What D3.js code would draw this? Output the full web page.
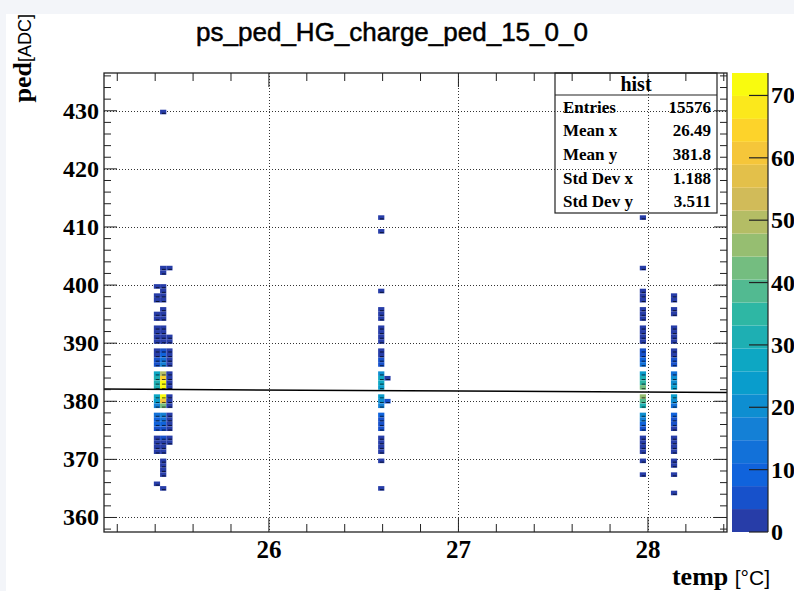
<!DOCTYPE html>
<html>
<head>
<meta charset="utf-8">
<title>ps_ped_HG_charge_ped_15_0_0</title>
<script src="https://d3js.org/d3.v7.min.js"></script>
<style>
  body { margin: 0; background: #fff; }
  svg { display: block; }
  .serif { font-family: "Liberation Serif", "Times New Roman", serif; font-weight: bold; }
  .sans { font-family: "Liberation Sans", Arial, sans-serif; }
</style>
</head>
<body>
<svg id="chart" width="794" height="591"></svg>
<script>
// temperature of each filled column (x bin centres)
const temps = [25.41, 25.44, 25.48, 26.59, 26.63, 27.96, 28.13];

// [ped, entries] for every column, same order as temps
const col25a = [[400,1],[398,1],[397,1],[395,1],[394,1],[393,1],[392,1],[391,2],[390,2],[389,2],[388,3],[387,4],[386,5],
  [385,26],[384,30],[383,32],[382,30],[381,28],[380,24],[379,18],[378,12],[377,10],[376,8],[375,5],[374,2],[373,2],[372,1],[371,1],[366,1]];
const col25b = [[430,1],[403,1],[402,1],[400,1],[399,2],[398,2],[397,2],[396,1],[395,2],[394,2],[393,2],[392,3],[391,3],[390,3],
  [389,5],[388,8],[387,12],[386,16],[385,48],[384,66],[383,73],[382,70],[381,72],[380,60],[379,42],[378,16],[377,12],[376,10],[375,7],
  [374,4],[373,3],[372,3],[371,2],[370,2],[369,1],[368,1],[367,1],[365,1]];
const col25c = [[403,1],[391,1],[390,1],[389,1],[388,2],[387,2],[386,2],[385,3],[384,3],[383,3],[382,3],[381,3],[380,3],[379,2],
  [378,2],[377,2],[376,1],[375,1],[374,1],[373,1]];
const col26a = [[412,1],[409,1],[399,1],[396,1],[395,1],[394,1],[393,1],[392,1],[391,2],[390,1],[389,2],[388,3],[387,4],[386,6],
  [385,22],[384,26],[383,26],[382,24],[381,24],[380,22],[379,16],[378,10],[377,7],[376,6],[375,4],[374,2],[373,2],[372,2],[371,1],[370,1],[365,1]];
const col26b = [[384,3],[380,4]];
const col28a = [[412,1],[403,1],[399,1],[398,2],[397,1],[396,2],[395,2],[394,2],[393,2],[392,2],[391,3],[390,3],[389,4],[388,6],[387,9],
  [386,12],[385,24],[384,30],[383,36],[382,44],[381,46],[380,38],[379,30],[378,22],[377,16],[376,8],[375,5],[374,3],[373,2],[372,2],[371,1],[370,1],[367,1]];
const col28b = [[398,1],[397,1],[396,1],[395,1],[393,1],[392,2],[391,1],[390,2],[389,2],[388,3],[387,4],[386,5],[385,14],[384,20],
  [383,22],[382,24],[381,24],[380,20],[379,14],[378,8],[377,6],[376,5],[375,3],[374,2],[373,2],[372,1],[371,2],[370,1],[369,1],[367,1],[364,1]];
const columns = [col25a, col25b, col25c, col26a, col26b, col28a, col28b];

const xTicks = [26, 27, 28];
const yTicks = [360, 370, 380, 390, 400, 410, 420, 430];
const zTicks = [0, 10, 20, 30, 40, 50, 60, 70];
const statNames = ["Entries", "Mean x", "Mean y", "Std Dev x", "Std Dev y"];
const statValues = ["15576", "26.49", "381.8", "1.188", "3.511"];
// pol1 fit drawn over the histogram
const fitP0 = 386.69, fitP1 = -0.1825;

// histogram binning (100 x 100)
const xMin = 25.13, xMax = 28.417, nx = 100;
const yMin = 357.5, yMax = 436.5, ny = 100;
const zMax = 73.6, nCont = 20;
const dx = (xMax - xMin) / nx, dy = (yMax - yMin) / ny;

const svg = d3.select("#chart");
const frame = {left: 104, right: 727, top: 73, bottom: 532};

const x = d3.scaleLinear().domain([xMin, xMax]).range([frame.left, frame.right]);
const y = d3.scaleLinear().domain([yMin, yMax]).range([frame.bottom, frame.top]);
const z = d3.scaleLinear().domain([0, zMax]).range([frame.bottom, frame.top]);

// ROOT kBird palette
const stops = [0.0, 0.125, 0.25, 0.375, 0.5, 0.625, 0.75, 0.875, 1.0];
const red   = [0.2082, 0.0592, 0.0780, 0.0232, 0.1802, 0.5301, 0.8186, 0.9956, 0.9764];
const green = [0.1664, 0.3599, 0.5041, 0.6419, 0.7178, 0.7492, 0.7328, 0.7862, 0.9832];
const blue  = [0.5293, 0.8684, 0.8385, 0.7914, 0.6425, 0.4662, 0.3499, 0.1968, 0.0539];
const bird = d3.scaleLinear().domain(stops)
  .range(stops.map((s, i) => d3.rgb(red[i] * 255, green[i] * 255, blue[i] * 255)));
function levelColor(level) {
  const idx = Math.floor(0.01 + (level + 0.99) * 255 / nCont);
  return bird(Math.min(idx, 254) / 254);
}

// page around the canvas (the screenshot starts a little inside it)
svg.append("rect").attr("width", 794).attr("height", 591).attr("fill", "#f3f5f9");
svg.append("rect").attr("x", 6).attr("y", 14).attr("width", 788).attr("height", 577).attr("fill", "#fff");

// grid
const grid = svg.append("g").attr("stroke", "#333").attr("stroke-dasharray", "1,2").attr("stroke-width", 1);
grid.selectAll("line.gx").data(xTicks).join("line").attr("class", "gx")
  .attr("x1", d => Math.round(x(d)) + 0.5).attr("x2", d => Math.round(x(d)) + 0.5)
  .attr("y1", frame.top).attr("y2", frame.bottom);
grid.selectAll("line.gy").data(yTicks).join("line").attr("class", "gy")
  .attr("y1", d => Math.round(y(d)) + 0.5).attr("y2", d => Math.round(y(d)) + 0.5)
  .attr("x1", frame.left).attr("x2", frame.right);

// fill the bins
const cells = new Map();
temps.forEach((t, c) => {
  const bx = Math.floor((t - xMin) / dx);
  columns[c].forEach(([p, n]) => {
    const by = Math.floor((p - yMin) / dy + 1e-9);
    const key = bx + "_" + by;
    cells.set(key, {bx, by, n: (cells.has(key) ? cells.get(key).n : 0) + n});
  });
});
const cellData = Array.from(cells.values());

const cellG = svg.append("g");
cellG.selectAll("rect").data(cellData).join("rect")
  .attr("x", d => x(xMin + d.bx * dx))
  .attr("width", d => x(xMin + (d.bx + 1) * dx) - x(xMin + d.bx * dx))
  .attr("y", d => y(yMin + (d.by + 1) * dy))
  .attr("height", d => y(yMin + d.by * dy) - y(yMin + (d.by + 1) * dy))
  .attr("fill", d => levelColor(Math.min(nCont - 1, Math.floor(d.n / zMax * nCont))));
// dark edge marks seen on the lower side of each bin
cellG.selectAll("line").data(cellData).join("line")
  .attr("x1", d => x(xMin + (d.bx + 0.3) * dx))
  .attr("x2", d => x(xMin + (d.bx + 0.9) * dx))
  .attr("y1", d => y(yMin + d.by * dy) - 1)
  .attr("y2", d => y(yMin + d.by * dy) - 1)
  .attr("stroke", "#000").attr("stroke-opacity", 0.7).attr("stroke-width", 1);

// fit line
svg.append("line")
  .attr("x1", x(xMin)).attr("y1", y(fitP0 + fitP1 * xMin))
  .attr("x2", x(xMax)).attr("y2", y(fitP0 + fitP1 * xMax))
  .attr("stroke", "#000").attr("stroke-width", 1.5);

// axes (ticks drawn inside the frame on all four sides)
const xMinor = d3.range(25.2, 28.41, 0.2);
const yMinor = d3.range(358, 437, 2);
const isMajorX = d => xTicks.some(t => Math.abs(t - d) < 1e-6);
const axes = svg.append("g").attr("stroke", "#222").attr("stroke-width", 1);
axes.selectAll("line.xb").data(xMinor).join("line").attr("class", "xb")
  .attr("x1", d => x(d)).attr("x2", d => x(d))
  .attr("y1", frame.bottom).attr("y2", d => frame.bottom - (isMajorX(d) ? 14 : 8));
axes.selectAll("line.xt").data(xMinor).join("line").attr("class", "xt")
  .attr("x1", d => x(d)).attr("x2", d => x(d))
  .attr("y1", frame.top).attr("y2", d => frame.top + (isMajorX(d) ? 14 : 8));
axes.selectAll("line.yl").data(yMinor).join("line").attr("class", "yl")
  .attr("y1", d => y(d)).attr("y2", d => y(d))
  .attr("x1", frame.left).attr("x2", d => frame.left + (d % 10 === 0 ? 13 : 7));
axes.selectAll("line.yr").data(yMinor).join("line").attr("class", "yr")
  .attr("y1", d => y(d)).attr("y2", d => y(d))
  .attr("x1", frame.right).attr("x2", d => frame.right - (d % 10 === 0 ? 13 : 7));

svg.append("rect")
  .attr("x", frame.left).attr("y", frame.top)
  .attr("width", frame.right - frame.left).attr("height", frame.bottom - frame.top)
  .attr("fill", "none").attr("stroke", "#222").attr("stroke-width", 1.3);

// tick labels
svg.append("g").selectAll("text").data(yTicks).join("text").attr("class", "serif")
  .attr("x", 99).attr("y", d => y(d) + 8).attr("text-anchor", "end")
  .attr("font-size", 24).text(d => d);
svg.append("g").selectAll("text").data(xTicks).join("text").attr("class", "serif")
  .attr("x", d => x(d)).attr("y", 558).attr("text-anchor", "middle")
  .attr("font-size", 25).text(d => d);

// axis titles
const yt = svg.append("text").attr("transform", "translate(31,14) rotate(-90)").attr("text-anchor", "end");
yt.append("tspan").attr("class", "serif").attr("font-size", 26).text("ped");
yt.append("tspan").attr("class", "sans").attr("font-size", 18).text("[ADC]");
const xt = svg.append("text").attr("x", 770).attr("y", 585).attr("text-anchor", "end");
xt.append("tspan").attr("class", "serif").attr("font-size", 26).text("temp ");
xt.append("tspan").attr("class", "sans").attr("font-size", 21).text("[°C]");

// title
svg.append("text").attr("class", "sans").attr("x", 392).attr("y", 41)
  .attr("text-anchor", "middle").attr("font-size", 26)
  .attr("stroke", "#000").attr("stroke-width", 0.5)
  .text("ps_ped_HG_charge_ped_15_0_0");

// colour bar
const pal = {left: 732, right: 768};
svg.append("g").selectAll("rect").data(d3.range(nCont)).join("rect")
  .attr("x", pal.left).attr("width", pal.right - pal.left)
  .attr("y", d => z((d + 1) * zMax / nCont)).attr("height", d => z(d * zMax / nCont) - z((d + 1) * zMax / nCont))
  .attr("fill", d => levelColor(d));
svg.append("line").attr("x1", pal.right).attr("x2", pal.right).attr("y1", frame.top).attr("y2", frame.bottom)
  .attr("stroke", "#222").attr("stroke-width", 1.2);
svg.append("g").selectAll("line").data(zTicks).join("line")
  .attr("x1", pal.right).attr("x2", pal.right - 19).attr("y1", d => z(d)).attr("y2", d => z(d))
  .attr("stroke", "#222").attr("stroke-width", 1.2);
svg.append("g").selectAll("text").data(zTicks).join("text").attr("class", "serif")
  .attr("x", 771).attr("y", d => z(d) + 8).attr("font-size", 24).text(d => d);

// stats box (hollow)
const box = {left: 555, right: 717, top: 73, bottom: 213, head: 95};
svg.append("rect").attr("x", box.left).attr("y", box.top)
  .attr("width", box.right - box.left).attr("height", box.bottom - box.top)
  .attr("fill", "none").attr("stroke", "#222").attr("stroke-width", 1.2);
svg.append("line").attr("x1", box.left).attr("x2", box.right).attr("y1", box.head).attr("y2", box.head)
  .attr("stroke", "#222").attr("stroke-width", 1.2);
svg.append("text").attr("class", "serif").attr("x", (box.left + box.right) / 2).attr("y", 91)
  .attr("text-anchor", "middle").attr("font-size", 20).text("hist");
const rowStep = (box.bottom - box.head) / statNames.length;
svg.append("g").selectAll("text").data(statNames).join("text").attr("class", "serif")
  .attr("x", 563).attr("y", (d, i) => box.head + rowStep * (i + 0.5) + 6).attr("font-size", 17).text(d => d);
svg.append("g").selectAll("text").data(statValues).join("text").attr("class", "serif")
  .attr("x", 711).attr("y", (d, i) => box.head + rowStep * (i + 0.5) + 6).attr("text-anchor", "end")
  .attr("font-size", 17).text(d => d);
</script>
</body>
</html>
